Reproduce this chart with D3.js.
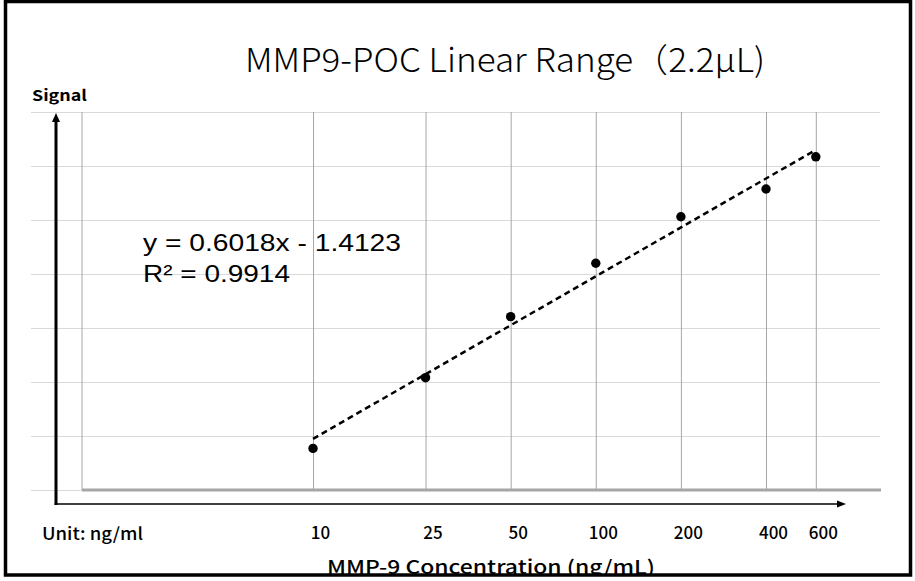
<!DOCTYPE html>
<html>
<head>
<meta charset="utf-8">
<script src="https://cdn.jsdelivr.net/npm/d3@7"></script>
<style>
  body { margin: 0; background: #fff; }
  svg { display: block; }
</style>
</head>
<body>
<div id="chart"></div>
<script>
// data (x = concentration in ng/mL, y = signal)
const concentrations = [10, 25, 50, 100, 200, 400, 600];
const signals = [-0.846, -0.584, -0.358, -0.160, 0.012, 0.115, 0.234];
const yTicks = [-1, -0.8, -0.6, -0.4, -0.2, 0, 0.2, 0.4];
const fitSlope = 0.6018;
const fitIntercept = -1.4123;
const fitR2 = 0.9914;

const W = 915, H = 581;
const plot = { left: 82, right: 880, top: 112, bottom: 490 };

var svg = d3.select("#chart")
  .append("svg")
  .attr("width", W)
  .attr("height", H);

// scales - x is log10 of concentration, as in the fitted equation
const xScale = d3.scaleLog()
  .domain([1.524, 1012])
  .range([plot.left, plot.right]);

const yScale = d3.scaleLinear()
  .domain([-1, 0.4])
  .range([plot.bottom, plot.top]);

// horizontal gridlines (they stick out left of the plot area)
svg.append("g")
  .attr("transform", `translate(${plot.right},0)`)
  .call(d3.axisLeft(yScale).tickValues(yTicks).tickSize(plot.right - 31).tickFormat(""))
  .call(g => g.select(".domain").remove())
  .call(g => g.selectAll("line").attr("stroke", "#d9d9d9"));

// vertical gridlines at each concentration
svg.append("g")
  .attr("transform", `translate(0,${plot.bottom})`)
  .call(d3.axisBottom(xScale).tickValues(concentrations).tickSize(-(plot.bottom - plot.top)).tickFormat(""))
  .call(g => g.select(".domain").remove())
  .call(g => g.selectAll("line").attr("stroke", "#a6a6a6"));

// left edge of plot area
svg.append("line")
  .attr("x1", plot.left).attr("x2", plot.left)
  .attr("y1", plot.top).attr("y2", plot.bottom)
  .attr("stroke", "#a6a6a6");

// thick grey horizontal axis
svg.append("line")
  .attr("x1", plot.left).attr("x2", plot.right + 1)
  .attr("y1", yScale(-1)).attr("y2", yScale(-1))
  .attr("stroke", "#a6a6a6")
  .attr("stroke-width", 3);

// trendline from the fitted equation
const fitLine = d3.line()
  .x(d => xScale(d))
  .y(d => yScale(fitSlope * Math.log10(d) + fitIntercept));

svg.append("path")
  .datum(d3.extent(concentrations))
  .attr("d", fitLine)
  .attr("fill", "none")
  .attr("stroke", "#000")
  .attr("stroke-width", 2.5)
  .attr("stroke-dasharray", "6,4");

// points
svg.selectAll("circle.dot")
  .data(concentrations)
  .enter()
  .append("circle")
  .attr("class", "dot")
  .attr("cx", d => xScale(d))
  .attr("cy", (d, i) => yScale(signals[i]))
  .attr("r", 4.7)
  .attr("fill", "#000");

// hand-drawn style arrows
const axisY = 504, axisX = 56;
svg.append("line")
  .attr("x1", axisX).attr("x2", axisX)
  .attr("y1", axisY + 1).attr("y2", 120)
  .attr("stroke", "#000").attr("stroke-width", 3);
svg.append("path")
  .attr("d", `M${axisX - 4},122 L${axisX},113 L${axisX + 4},122 Z`)
  .attr("fill", "#000");

svg.append("line")
  .attr("x1", axisX - 1.5).attr("x2", 840)
  .attr("y1", axisY).attr("y2", axisY)
  .attr("stroke", "#000").attr("stroke-width", 1.7);
svg.append("path")
  .attr("d", `M837,${axisY - 3.5} L846,${axisY} L837,${axisY + 3.5} Z`)
  .attr("fill", "#000");

const cjkFont = "'Noto Sans CJK SC', 'Noto Sans', sans-serif";
const thinFont = "'Noto Sans CJK SC Light', 'Noto Sans CJK SC', 'Noto Sans', sans-serif";
const latinFont = "'Liberation Sans', Arial, sans-serif";

// tick labels under the arrow
svg.append("g")
  .attr("transform", `translate(0,${axisY})`)
  .call(d3.axisBottom(xScale).tickValues(concentrations).tickSize(0).tickPadding(23).tickFormat(d3.format("d")))
  .call(g => g.select(".domain").remove())
  .call(g => g.selectAll("text")
    .attr("dx", 7)
    .attr("fill", "#000")
    .style("font-family", cjkFont)
    .style("font-weight", 500)
    .style("font-size", "17px"));

// texts
svg.append("text")
  .attr("x", 505).attr("y", 72)
  .attr("text-anchor", "middle")
  .attr("textLength", 520)
  .attr("lengthAdjust", "spacingAndGlyphs")
  .style("font-family", thinFont)
  .style("font-weight", 300)
  .style("font-size", "33px")
  .text("MMP9-POC Linear Range（2.2μL)");

svg.append("text")
  .attr("x", 32).attr("y", 101)
  .attr("textLength", 55)
  .attr("lengthAdjust", "spacingAndGlyphs")
  .style("font-family", cjkFont)
  .style("font-weight", 700)
  .style("font-size", "15px")
  .text("Signal");

svg.append("text")
  .attr("x", 143).attr("y", 251)
  .attr("textLength", 258)
  .attr("lengthAdjust", "spacingAndGlyphs")
  .style("font-family", latinFont)
  .style("font-size", "24px")
  .text(`y = ${fitSlope}x - ${Math.abs(fitIntercept)}`);

svg.append("text")
  .attr("x", 143).attr("y", 282)
  .attr("textLength", 147)
  .attr("lengthAdjust", "spacingAndGlyphs")
  .style("font-family", latinFont)
  .style("font-size", "24px")
  .text(`R² = ${fitR2}`);

svg.append("text")
  .attr("x", 42).attr("y", 540)
  .attr("textLength", 101)
  .attr("lengthAdjust", "spacingAndGlyphs")
  .style("font-family", cjkFont)
  .style("font-weight", 500)
  .style("font-size", "17px")
  .text("Unit: ng/ml");

svg.append("text")
  .attr("x", 491).attr("y", 574)
  .attr("text-anchor", "middle")
  .attr("textLength", 328)
  .attr("lengthAdjust", "spacingAndGlyphs")
  .style("font-family", cjkFont)
  .style("font-weight", 500)
  .style("font-size", "19px")
  .text("MMP-9 Concentration (ng/mL)");

// white margin below the frame, then the frame itself
svg.append("rect")
  .attr("x", 0).attr("y", 575).attr("width", W).attr("height", H - 575)
  .attr("fill", "#fff");
svg.append("rect")
  .attr("x", 5.5).attr("y", 1.5)
  .attr("width", 905).attr("height", 573.5)
  .attr("fill", "none")
  .attr("stroke", "#000")
  .attr("stroke-width", 3.5);
</script>
</body>
</html>
